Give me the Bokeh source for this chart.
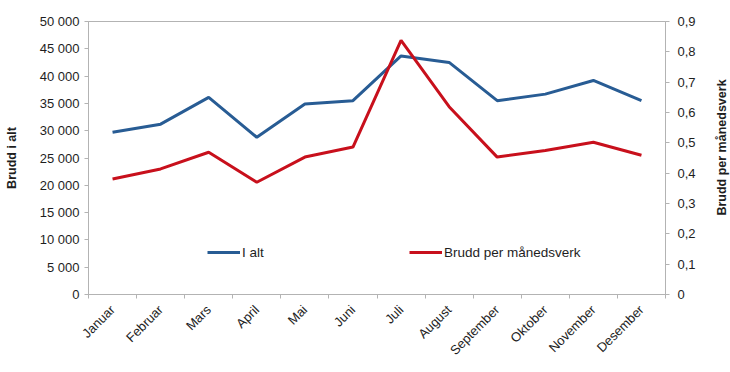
import math
from bokeh.plotting import figure
from bokeh.layouts import row
from bokeh.models import (Range1d, LinearAxis, FixedTicker, SingleIntervalTicker,
                          CustomJSTickFormatter, Legend, LegendItem, Label)
from bokeh.embed import file_html
from bokeh.resources import INLINE

months = ["Januar", "Februar", "Mars", "April", "Mai", "Juni", "Juli",
          "August", "September", "Oktober", "November", "Desember"]
i_alt = [29700, 31200, 36100, 28800, 34900, 35500, 43700, 42500, 35500, 36700, 39200, 35500]
per_maanedsverk = [0.381, 0.414, 0.469, 0.370, 0.453, 0.486, 0.838, 0.619, 0.453, 0.475, 0.502, 0.459]

BLUE = "#285C94"
RED = "#C8101C"
GRAY = "#B3B3B3"
FONT = "Liberation Sans"
TXT = "#1e1e1e"

xs = [i + 0.5 for i in range(len(months))]

p = figure(width=705, height=372, output_backend="svg", toolbar_location=None,
           x_range=Range1d(0, len(months)), y_range=Range1d(0, 50000),
           min_border_left=88, min_border_right=40, min_border_top=21, min_border_bottom=78,
           x_axis_type=None, y_axis_type=None)
p.extra_y_ranges = {"r": Range1d(0, 0.9)}
p.xgrid.visible = False
p.ygrid.visible = False
p.outline_line_color = GRAY
p.outline_line_width = 1
p.background_fill_color = "white"
p.border_fill_color = "white"

# x axis
xax = LinearAxis(ticker=FixedTicker(ticks=xs, minor_ticks=list(range(len(months) + 1))),
                 major_label_overrides={x: m for x, m in zip(xs, months)})
xax.major_tick_line_color = None
xax.major_tick_in = 0
xax.major_tick_out = 0
xax.minor_tick_line_color = GRAY
xax.minor_tick_in = 0
xax.minor_tick_out = 4
xax.axis_line_color = GRAY
xax.major_label_orientation = math.pi / 4
xax.major_label_standoff = 9
xax.major_label_text_font = FONT
xax.major_label_text_font_size = "13px"
xax.major_label_text_color = TXT
p.add_layout(xax, "below")

# left axis
lax = LinearAxis(ticker=SingleIntervalTicker(interval=5000, num_minor_ticks=0),
                 formatter=CustomJSTickFormatter(code="""
                     return Math.round(tick).toString().replace(/\\B(?=(\\d{3})+(?!\\d))/g, ' ');
                 """),
                 axis_label="Brudd i alt")
lax.axis_line_color = GRAY
lax.major_tick_line_color = GRAY
lax.major_tick_in = 0
lax.major_tick_out = 4
lax.minor_tick_line_color = None
lax.major_label_standoff = 5
lax.major_label_text_font = FONT
lax.major_label_text_font_size = "13px"
lax.major_label_text_color = TXT
lax.axis_label_text_font = FONT
lax.axis_label_text_font_style = "bold"
lax.axis_label_text_font_size = "12.5px"
lax.axis_label_text_color = TXT
lax.axis_label_standoff = 18
p.add_layout(lax, "left")

# right axis
rax = LinearAxis(y_range_name="r",
                 ticker=SingleIntervalTicker(interval=0.1, num_minor_ticks=0),
                 formatter=CustomJSTickFormatter(code="""
                     if (Math.abs(tick) < 1e-9) { return '0'; }
                     return tick.toFixed(1).replace('.', ',');
                 """))
rax.axis_line_color = GRAY
rax.major_tick_line_color = GRAY
rax.major_tick_in = 0
rax.major_tick_out = 4
rax.minor_tick_line_color = None
rax.major_label_standoff = 8
rax.major_label_text_font = FONT
rax.major_label_text_font_size = "13px"
rax.major_label_text_color = TXT
p.add_layout(rax, "right")

r1 = p.line(xs, i_alt, line_color=BLUE, line_width=3)
r2 = p.line(xs, per_maanedsverk, line_color=RED, line_width=3, y_range_name="r")

def make_legend(label, rend, loc):
    lg = Legend(items=[LegendItem(label=label, renderers=[rend])], location=loc)
    lg.border_line_color = None
    lg.background_fill_alpha = 0
    lg.padding = 0
    lg.margin = 0
    lg.glyph_width = 33
    lg.glyph_height = 20
    lg.label_standoff = 2
    lg.label_text_font = FONT
    lg.label_text_font_size = "13.5px"
    lg.label_text_color = TXT
    return lg

p.add_layout(make_legend("I alt", r1, (119, 32)), "center")
p.add_layout(make_legend("Brudd per månedsverk", r2, (321, 32)), "center")

# narrow strip holding the right-axis title (reads bottom-to-top)
p2 = figure(width=25, height=372, output_backend="svg", toolbar_location=None,
            x_axis_type=None, y_axis_type=None,
            min_border_left=0, min_border_right=0, min_border_top=0, min_border_bottom=0)
p2.outline_line_color = None
p2.xgrid.visible = False
p2.ygrid.visible = False
p2.add_layout(Label(x=16, y=147, x_units="screen", y_units="screen",
                    text="Brudd per månedsverk", angle=math.pi / 2,
                    text_align="center", text_baseline="middle",
                    text_font=FONT, text_font_style="bold", text_font_size="12.5px",
                    text_color=TXT))

layout = row(p, p2, spacing=0)
open("out.html", "w").write(file_html(layout, INLINE))
